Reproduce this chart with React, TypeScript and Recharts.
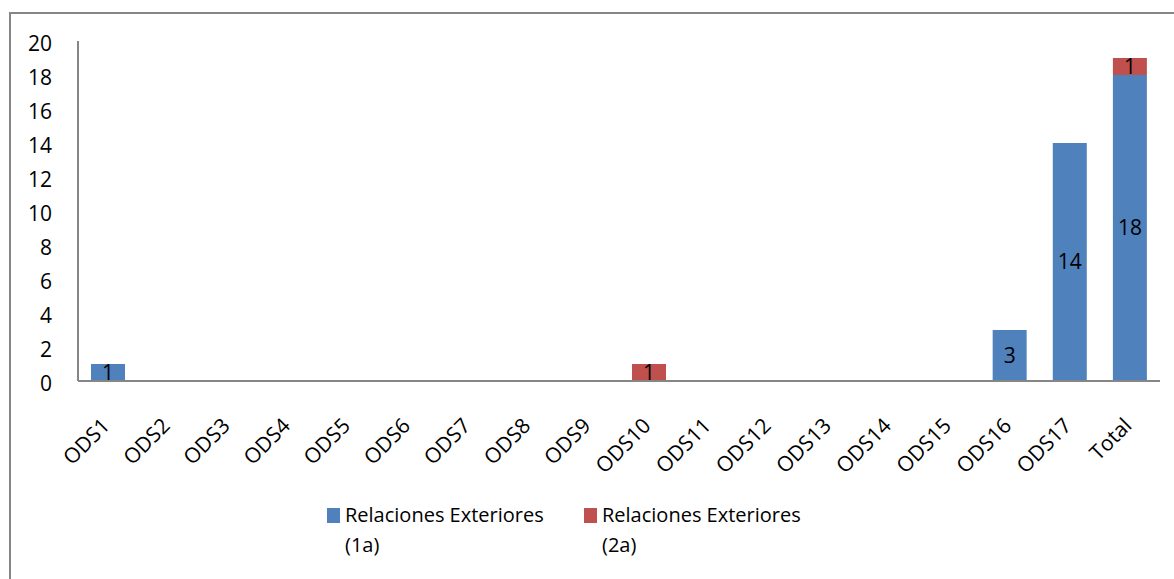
import React from "react"
import { BarChart, Bar, XAxis, YAxis, LabelList } from "recharts"

const categories = [
  "ODS1", "ODS2", "ODS3", "ODS4", "ODS5", "ODS6", "ODS7", "ODS8", "ODS9",
  "ODS10", "ODS11", "ODS12", "ODS13", "ODS14", "ODS15", "ODS16", "ODS17", "Total",
]
const relaciones1a = [1, 0, 0, 0, 0, 0, 0, 0, 0, 0, 0, 0, 0, 0, 0, 3, 14, 18]
const relaciones2a = [0, 0, 0, 0, 0, 0, 0, 0, 0, 1, 0, 0, 0, 0, 0, 0, 0, 1]
const yTicks = [0, 2, 4, 6, 8, 10, 12, 14, 16, 18, 20]

const seriesNames = ["Relaciones Exteriores (1a)", "Relaciones Exteriores (2a)"]
const BLUE = "#4F81BD"
const RED = "#C0504D"
const AXIS = "#868686"
const FONT = "'Open Sans', 'Noto Sans', sans-serif"

const data = categories.map((name, i) => ({
  name,
  a: relaciones1a[i],
  b: relaciones2a[i],
}))

const hideZero = (v: any) => (v === 0 ? "" : v)

function XTick({ x, y, payload }: any) {
  return (
    <g transform={`translate(${x + 3},${y + 46}) rotate(-45)`}>
      <text textAnchor="end" fontSize={21} fontFamily={FONT} fill="#000">
        {payload.value}
      </text>
    </g>
  )
}

function YTick({ x, y, payload }: any) {
  return (
    <text x={x} y={y} dy={10} textAnchor="end" fontSize={21} fontFamily={FONT} fill="#000">
      {payload.value}
    </text>
  )
}

function LegendBox({ color, label, left }: { color: string; label: string; left: number }) {
  return (
    <div style={{ position: "absolute", left, top: 500, display: "flex" }}>
      <div style={{ width: 13, height: 15, background: color, marginTop: 8, marginRight: 5 }} />
      <div style={{ width: 225, fontSize: 20, lineHeight: "30px", fontFamily: FONT, color: "#000" }}>
        {label}
      </div>
    </div>
  )
}

export default function App() {
  return (
    <div
      style={{
        position: "absolute",
        left: 0,
        top: 0,
        width: 1174,
        height: 579,
        overflow: "hidden",
        background: "#fff",
      }}
    >
      <div
        style={{
          position: "absolute",
          left: 9,
          top: 12,
          width: 1180,
          height: 600,
          border: `2px solid ${AXIS}`,
        }}
      />
      <div style={{ position: "absolute", left: 0, top: 0 }}>
        <BarChart
          width={1174}
          height={579}
          data={data}
          margin={{ top: 41, right: 14, left: 18, bottom: 98 }}
          barSize={34}
        >
          <XAxis
            dataKey="name"
            interval={0}
            height={100}
            tickLine={false}
            tickSize={0}
            tickMargin={0}
            stroke={AXIS}
            strokeWidth={2}
            tick={<XTick />}
          />
          <YAxis
            width={60}
            domain={[0, 20]}
            ticks={yTicks}
            interval={0}
            tickLine={false}
            tickSize={0}
            tickMargin={26}
            stroke={AXIS}
            strokeWidth={2}
            tick={<YTick />}
          />
          <Bar dataKey="a" stackId="s" fill={BLUE} isAnimationActive={false}>
            <LabelList
              dataKey="a"
              position="center"
              formatter={hideZero}
              fill="#000"
              fontSize={21}
              fontFamily={FONT}
            />
          </Bar>
          <Bar dataKey="b" stackId="s" fill={RED} isAnimationActive={false}>
            <LabelList
              dataKey="b"
              position="center"
              formatter={hideZero}
              fill="#000"
              fontSize={21}
              fontFamily={FONT}
            />
          </Bar>
        </BarChart>
      </div>
      <LegendBox color={BLUE} label={seriesNames[0]} left={327} />
      <LegendBox color={RED} label={seriesNames[1]} left={584} />
    </div>
  )
}
